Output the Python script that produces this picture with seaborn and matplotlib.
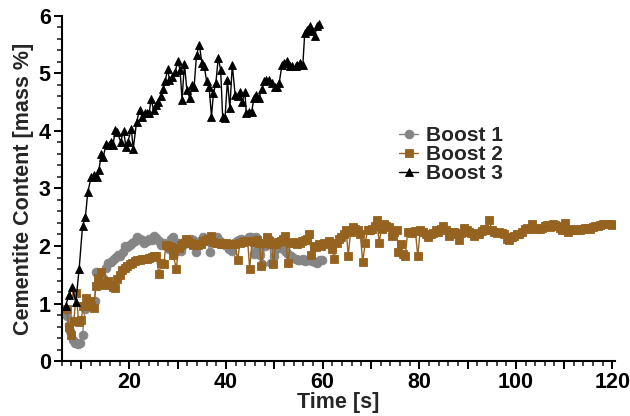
import numpy as np
import pandas as pd
import matplotlib
matplotlib.use("Agg")
import matplotlib.pyplot as plt
from matplotlib.ticker import MultipleLocator, FixedLocator, FixedFormatter
import seaborn as sns

# Boost 1: time [s] and cementite content [mass %]
boost1_t = [7.0, 7.4, 7.8, 8.3, 8.8, 9.3, 9.8, 10.3, 10.8, 11.3,
            11.8, 12.3, 12.8, 13.1, 13.6, 14.1, 14.6, 15.1, 15.6, 16.1,
            16.6, 17.1, 17.6, 18.1, 18.6, 19.1, 19.6, 20.1, 20.6, 21.1,
            21.6, 22.1, 22.6, 23.1, 23.6, 24.1, 24.6, 25.1, 25.6, 26.1,
            26.6, 27.1, 27.6, 28.1, 28.6, 29.1, 29.6, 30.1, 30.6, 31.1,
            31.6, 32.1, 32.7, 33.2, 33.7, 34.2, 34.7, 35.2, 35.7, 36.2,
            36.7, 37.2, 37.7, 38.2, 38.7, 39.2, 39.7, 40.2, 40.7, 41.2,
            41.7, 42.2, 42.7, 43.2, 43.7, 44.2, 44.7, 45.2, 45.7, 46.2,
            46.6, 47.1, 47.5, 48.0, 48.5, 49.0, 49.4, 49.9, 50.4, 50.9,
            51.4, 51.9, 52.4, 52.9, 53.4, 53.9, 54.4, 54.9, 55.4, 55.9,
            56.4, 56.9, 57.4, 57.9, 58.4, 58.9, 59.4, 59.9]
boost1_c = [0.79, 0.62, 0.52, 0.36, 0.32, 0.29, 0.31, 0.45, 0.90, 0.94,
            0.96, 1.00, 1.05, 1.55, 1.50, 1.46, 1.45, 1.62, 1.70, 1.72,
            1.75, 1.80, 1.85, 1.82, 1.90, 2.00, 1.98, 2.02, 2.05, 2.08,
            2.15, 2.12, 2.10, 2.05, 2.08, 2.12, 2.10, 2.18, 2.14, 2.08,
            2.02, 2.05, 2.00, 1.95, 2.12, 2.15, 1.92, 2.05, 1.92, 2.02,
            2.08, 2.05, 2.12, 2.10, 1.89, 2.02, 2.08, 2.15, 2.10, 2.08,
            1.89, 2.12, 2.08, 2.15, 2.08, 2.05, 2.02, 2.04, 1.95, 1.92,
            2.05, 2.09, 2.10, 2.12, 2.08, 2.10, 2.15, 2.15, 1.86, 2.15,
            1.98, 1.85, 1.69, 2.00, 2.09, 2.12, 1.70, 1.82, 1.95, 2.04,
            2.00, 1.95, 1.90, 1.86, 1.82, 1.80, 1.78, 1.75, 1.76, 1.78,
            1.74, 1.76, 1.78, 1.74, 1.72, 1.70, 1.75, 1.76]

# Boost 2
boost2_t = [7.0, 7.5, 8.0, 8.5, 9.0, 9.5, 10.0, 10.5, 11.1, 11.6,
            12.1, 12.6, 13.1, 13.6, 14.1, 14.6, 15.1, 15.6, 16.1, 16.6,
            17.0, 17.5, 18.0, 18.5, 19.0, 19.6, 20.1, 20.6, 21.1, 21.6,
            22.1, 22.6, 23.1, 23.6, 24.1, 24.6, 25.1, 25.6, 26.1, 26.6,
            27.1, 27.6, 28.1, 28.6, 29.1, 29.7, 30.2, 30.7, 31.2, 31.7,
            32.2, 32.7, 33.2, 33.8, 34.3, 34.8, 35.3, 35.8, 36.3, 36.9,
            37.4, 37.9, 38.4, 38.9, 39.4, 39.9, 40.4, 40.9, 41.4, 41.9,
            42.4, 42.9, 43.5, 44.0, 44.5, 44.9, 45.4, 45.9, 46.4, 46.9,
            47.3, 47.8, 48.4, 48.9, 49.4, 49.8, 50.3, 50.8, 51.3, 51.8,
            52.3, 52.8, 53.3, 53.8, 54.3, 54.8, 55.3, 55.8, 56.3, 56.8,
            57.2, 57.7, 58.2, 58.7, 59.2, 59.7, 60.2, 60.8, 61.3, 61.9,
            62.4, 62.9, 63.4, 63.9, 64.4, 64.9, 65.3, 65.8, 66.3, 66.8,
            67.3, 67.8, 68.3, 68.8, 69.3, 69.8, 70.3, 70.8, 71.2, 71.7,
            72.2, 72.7, 73.2, 73.7, 74.3, 74.8, 75.3, 75.7, 76.2, 76.6,
            77.1, 77.6, 78.1, 78.6, 79.2, 79.7, 80.2, 80.8, 81.3, 81.9,
            82.4, 82.9, 83.4, 83.9, 84.5, 85.0, 85.6, 86.1, 86.7, 87.2,
            87.7, 88.2, 88.7, 89.2, 89.8, 90.3, 90.8, 91.3, 91.8, 92.4,
            92.9, 93.4, 93.9, 94.5, 95.0, 95.5, 96.0, 96.6, 97.1, 97.6,
            98.1, 98.6, 99.2, 99.7, 100.2, 100.7, 101.2, 101.8, 102.3, 102.8,
            103.4, 103.9, 104.4, 104.9, 105.5, 106.0, 106.5, 107.0, 107.6, 108.1,
            108.6, 109.1, 109.6, 110.1, 110.7, 111.2, 111.7, 112.2, 112.8, 113.3,
            113.8, 114.3, 114.9, 115.4, 115.9, 116.4, 117.0, 117.5, 118.0, 118.5,
            119.0, 119.6, 120.0]
boost2_c = [0.90, 0.60, 0.45, 0.70, 1.18, 0.68, 0.72, 0.95, 1.10, 1.05,
            0.95, 0.93, 1.30, 1.45, 1.55, 1.32, 1.35, 1.40, 1.33, 1.28,
            1.27, 1.42, 1.50, 1.58, 1.62, 1.66, 1.68, 1.70, 1.74, 1.75,
            1.76, 1.77, 1.78, 1.78, 1.80, 1.81, 1.82, 1.82, 1.51, 1.70,
            1.68, 2.02, 2.00, 1.98, 1.85, 1.60, 1.96, 2.02, 2.05, 2.12,
            2.08, 2.05, 2.02, 2.03, 2.02, 2.04, 2.08, 2.10, 2.12, 2.18,
            2.07, 2.05, 2.05, 2.04, 2.03, 2.05, 2.04, 2.03, 2.04, 2.04,
            1.75, 2.06, 2.07, 2.09, 2.08, 1.60, 2.08, 2.07, 2.10, 2.06,
            1.66, 2.05, 2.15, 2.08, 2.04, 1.69, 2.03, 2.07, 2.08, 2.12,
            2.18, 1.70, 2.05, 2.07, 2.06, 2.04, 2.06, 2.08, 2.10, 2.12,
            2.21, 1.85, 2.00, 1.98, 2.03, 2.00, 2.06, 2.04, 2.09, 1.95,
            1.77, 2.05, 2.12, 2.15, 2.21, 2.27, 1.83, 2.25, 2.33, 2.30,
            2.28, 2.20, 1.72, 2.05, 2.27, 2.28, 2.30, 2.35, 2.45, 2.06,
            2.30, 2.39, 2.35, 2.33, 2.18, 2.25, 2.28, 1.90, 2.04, 1.86,
            1.82, 2.24, 2.25, 2.22, 2.26, 1.82, 2.27, 2.24, 2.20, 2.15,
            2.20, 2.22, 2.27, 2.25, 2.30, 2.34, 2.28, 2.17, 2.24, 2.25,
            2.20, 2.10, 2.22, 2.32, 2.28, 2.25, 2.22, 2.17, 2.22, 2.20,
            2.26, 2.30, 2.28, 2.46, 2.28, 2.24, 2.23, 2.24, 2.22, 2.20,
            2.12, 2.10, 2.15, 2.18, 2.20, 2.21, 2.25, 2.30, 2.32, 2.30,
            2.38, 2.32, 2.30, 2.30, 2.32, 2.34, 2.36, 2.33, 2.39, 2.36,
            2.34, 2.32, 2.27, 2.40, 2.25, 2.30, 2.28, 2.28, 2.30, 2.27,
            2.30, 2.32, 2.31, 2.30, 2.33, 2.35, 2.34, 2.36, 2.38, 2.39,
            2.38, 2.39, 2.37]

# Boost 3
boost3_t = [6.8, 7.5, 8.2, 8.9, 9.6, 10.3, 10.9, 11.4, 12.1, 12.7,
            13.2, 13.7, 14.2, 14.6, 15.2, 15.7, 16.2, 16.6, 17.1, 17.5,
            18.2, 18.8, 19.3, 19.7, 20.4, 20.8, 21.5, 22.1, 22.6, 23.2,
            23.7, 24.1, 24.5, 25.0, 25.5, 26.0, 26.6, 27.0, 27.4, 27.9,
            28.3, 28.9, 29.5, 30.0, 30.5, 30.9, 31.4, 31.9, 32.5, 33.0,
            33.4, 33.9, 34.5, 35.0, 35.5, 36.0, 36.5, 37.0, 37.4, 37.9,
            38.4, 38.9, 39.3, 39.8, 40.3, 40.8, 41.3, 41.9, 42.4, 42.9,
            43.4, 43.9, 44.2, 44.8, 45.3, 45.8, 46.3, 46.8, 47.4, 47.9,
            48.3, 48.9, 49.6, 50.1, 50.6, 51.0, 51.6, 52.0, 52.7, 53.2,
            53.7, 54.4, 54.8, 55.4, 55.9, 56.3, 56.7, 57.3, 57.8, 58.4,
            58.8, 59.3]
boost3_c = [0.96, 1.15, 1.29, 1.02, 1.60, 2.34, 2.51, 2.94, 3.20, 3.23,
            3.20, 3.32, 3.60, 3.55, 3.78, 3.75, 3.80, 3.75, 4.01, 3.98,
            3.81, 4.00, 3.72, 3.81, 4.04, 3.69, 4.16, 4.36, 4.25, 4.31,
            4.31, 4.31, 4.56, 4.36, 4.45, 4.51, 4.61, 4.72, 4.86, 5.07,
            4.89, 4.94, 5.03, 5.21, 5.06, 4.54, 5.17, 4.71, 4.57, 4.80,
            4.77, 5.32, 5.50, 5.18, 5.12, 4.86, 4.77, 4.25, 4.65, 4.83,
            5.27, 5.06, 4.25, 4.22, 4.89, 4.39, 5.15, 4.62, 4.60, 4.68,
            4.51, 4.68, 4.31, 4.33, 4.33, 4.57, 4.62, 4.57, 4.72, 4.86,
            4.89, 4.89, 4.83, 4.77, 4.77, 4.83, 5.15, 5.18, 5.21, 5.12,
            5.12, 5.12, 5.15, 5.18, 5.14, 5.70, 5.76, 5.83, 5.74, 5.65,
            5.82, 5.85]

series_names = ["Boost 1", "Boost 2", "Boost 3"]
series_colors = ["#858585", "#96621f", "#000000"]
series_markers = ["o", "s", "^"]

frames = []
for name, t, c in zip(series_names,
                      [boost1_t, boost2_t, boost3_t],
                      [boost1_c, boost2_c, boost3_c]):
    frames.append(pd.DataFrame({"Time": t, "Content": c, "Series": name}))
df = pd.concat(frames, ignore_index=True)

sns.set_style("ticks")
plt.rcParams["font.family"] = ["Liberation Sans", "DejaVu Sans"]
plt.rcParams["font.weight"] = "bold"

fig = plt.figure(figsize=(6.3, 4.16), dpi=100)
ax = fig.add_axes([0.098, 0.132, 0.878, 0.830])

marker_sizes = {"Boost 1": 6.3, "Boost 2": 6.0, "Boost 3": 5.6}
for name, color, mk in zip(series_names, series_colors, series_markers):
    sub = df[df["Series"] == name]
    sns.lineplot(data=sub, x="Time", y="Content", sort=False, estimator=None,
                 color=color, marker=mk, markersize=marker_sizes[name],
                 markeredgecolor=color, markeredgewidth=0.6,
                 linewidth=1.0, label=name, ax=ax)

ax.set_xlim(6, 120.5)
ax.set_ylim(0, 6)

# x ticks: long marks every 10 s, labels every 20 s, short marks every 2 s
xmaj = list(range(10, 121, 10))
ax.xaxis.set_major_locator(FixedLocator(xmaj))
ax.xaxis.set_major_formatter(FixedFormatter([str(v) if v % 20 == 0 else "" for v in xmaj]))
ax.xaxis.set_minor_locator(MultipleLocator(2))
ax.yaxis.set_major_locator(MultipleLocator(1))
ax.yaxis.set_minor_locator(MultipleLocator(0.2))

ax.tick_params(axis="both", which="major", length=6, width=1.4, labelsize=15.5,
               direction="out", pad=2, colors="black")
ax.tick_params(axis="both", which="minor", length=3.5, width=1.2, direction="out")
for lbl in ax.get_xticklabels() + ax.get_yticklabels():
    lbl.set_fontweight("bold")

for side in ["top", "right"]:
    ax.spines[side].set_visible(False)
for side in ["left", "bottom"]:
    ax.spines[side].set_linewidth(1.5)
    ax.spines[side].set_color("black")

ax.set_xlabel("Time [s]", fontsize=15.5, fontweight="bold", labelpad=-1)
ax.set_ylabel("Cementite Content [mass %]", fontsize=15.5, fontweight="bold", labelpad=3)

leg = ax.legend(loc="upper left", bbox_to_anchor=(0.595, 0.705), frameon=False,
                fontsize=15, handlelength=0.9, handletextpad=0.4,
                labelspacing=0.0, borderaxespad=0)
for txt in leg.get_texts():
    txt.set_fontweight("bold")

fig.savefig("out.png", dpi=100)
